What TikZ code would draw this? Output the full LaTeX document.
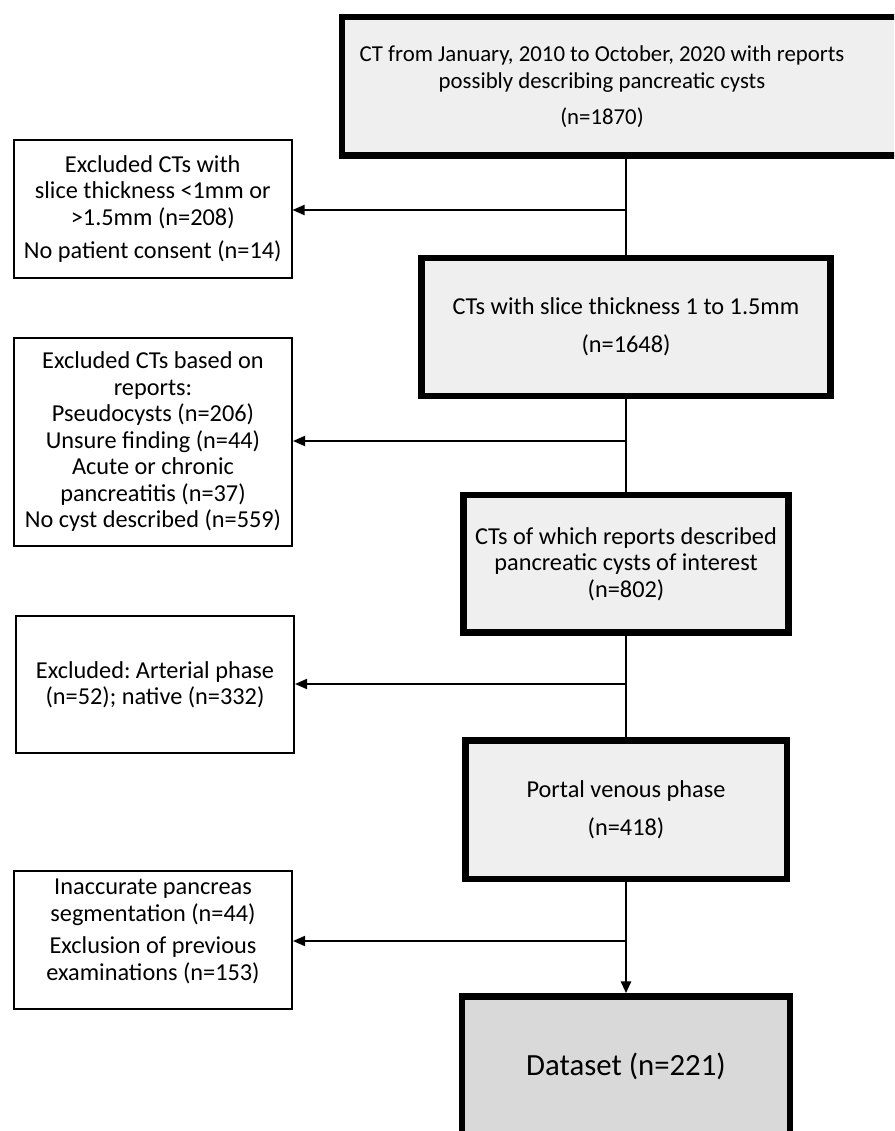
\documentclass[tikz,border=0pt]{standalone}
\usepackage{fontspec}
\setmainfont{Carlito}
\usetikzlibrary{arrows.meta}
\definecolor{boxfill}{HTML}{EFEFEF}
\definecolor{datafill}{HTML}{D9D9D9}
\newcommand\flowfont{\fontsize{24.3}{26.5}\selectfont\frenchspacing}
\newcommand\topflowfont{\fontsize{22.8}{26.8}\selectfont\frenchspacing}
\newcommand\bigflowfont{\fontsize{30.8}{36}\selectfont\frenchspacing}
\begin{document}
\begin{tikzpicture}[x=1pt,y=-1pt,
  mainbox/.style={draw, line width=6.5pt, fill=boxfill, rectangle, inner sep=0pt, align=center, font=\flowfont},
  databox/.style={mainbox, fill=datafill, font=\bigflowfont},
  sidebox/.style={draw, line width=2pt, fill=white, rectangle, inner sep=0pt, align=center, font=\flowfont},
  plaintext/.style={inner sep=0pt, align=center, font=\flowfont},
  spine/.style={line width=2.8pt},
  spinearrow/.style={line width=2.8pt, -{Triangle[length=12pt,width=10pt]}},
  excl/.style={line width=1.8pt, -{Triangle[length=12pt,width=10pt]}}]
\useasboundingbox (0,0) rectangle (894,1131);
\clip (0,0) rectangle (894,1131);
\fill[white] (0,0) rectangle (894,1131);

% main column
\node[mainbox, minimum width=618pt, minimum height=138.5pt] (b1) at (651,86.25) {};
\node[plaintext, font=\topflowfont] (b1t) at (602,86.5) {CT from January, 2010 to October, 2020 with reports\\possibly describing pancreatic cysts\\[9.5pt](n=1870)};
\node[mainbox, minimum width=409pt, minimum height=138pt] (b2) at (626,327) {CTs with slice thickness 1 to 1.5mm\\[11.5pt](n=1648)};
\node[mainbox, minimum width=325pt, minimum height=137.5pt] (b3) at (626,563.75) {CTs of which reports described\\pancreatic cysts of interest\\(n=802)};
\node[mainbox, minimum width=321.5pt, minimum height=138.5pt] (b4) at (626,809.75) {Portal venous phase\\[11.5pt](n=418)};
\node[databox, minimum width=328pt, minimum height=139.5pt] (b5) at (626,1066.25) {Dataset (n=221)};

% side boxes
\node[sidebox, minimum width=277.5pt, minimum height=138pt] (l1) at (152.75,209) {Excluded CTs with\\slice thickness <1mm or\\>1.5mm (n=208)\\[7pt]No patient consent (n=14)};
\node[sidebox, minimum width=278pt, minimum height=208pt] (l2) at (153,442) {Excluded CTs based on\\reports:\\Pseudocysts (n=206)\\Unsure finding (n=44)\\Acute or chronic\\pancreatitis (n=37)\\No cyst described (n=559)};
\node[sidebox, minimum width=278pt, minimum height=137pt] (l3) at (155,684.5) {Excluded: Arterial phase\\(n=52); native (n=332)};
\node[sidebox, minimum width=278pt, minimum height=138pt] (l4) at (153,940) {};
\node[plaintext] (l4t) at (153,931.5) {Inaccurate pancreas\\segmentation (n=44)\\[6pt]Exclusion of previous\\examinations (n=153)};

% spine
\draw[spine] (b1.south -| b2.north) -- (b2.north);
\draw[spine] (b2.south) -- (b3.north);
\draw[spine] (b3.south) -- (b4.north);
\draw[spinearrow] (b4.south) -- (b5.north);

% junctions and exclusion arrows
\coordinate (j1) at (626,210);
\coordinate (j2) at (626,441);
\coordinate (j3) at (626,684);
\coordinate (j4) at (626,941);
\draw[excl] (j1) -- (j1 -| l1.east);
\draw[excl] (j2) -- (j2 -| l2.east);
\draw[excl] (j3) -- (j3 -| l3.east);
\draw[excl] (j4) -- (j4 -| l4.east);
\end{tikzpicture}
\end{document}
